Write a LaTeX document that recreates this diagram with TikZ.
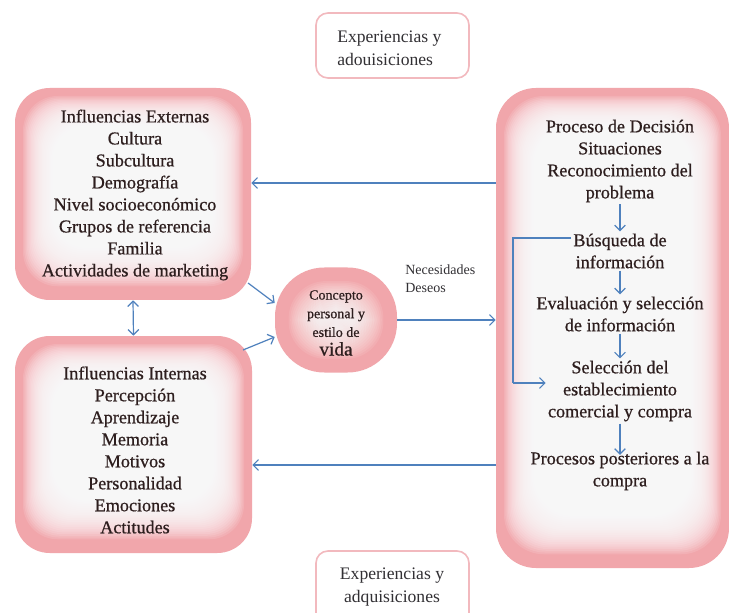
\documentclass[tikz,border=0pt]{standalone}
\usepackage{fontspec}
\setmainfont{Liberation Serif}
\newfontfamily\heavyserif{Liberation Serif}[FakeBold=0.7]
\usetikzlibrary{calc,fit,arrows.meta,shapes.geometric}
\definecolor{pinkedge}{RGB}{241,166,171}
\definecolor{pinkline}{RGB}{242,185,190}
\definecolor{arrblue}{RGB}{79,129,189}
\definecolor{txtc}{RGB}{45,30,30}
\definecolor{graytxt}{RGB}{50,48,52}
\tikzset{
  glowrect/.style={draw=none, fill=pinkedge, rounded corners=#1, inner sep=0pt,
    path picture={
      \foreach \i in {1,...,26}{
        \fill[white,opacity=0.12,rounded corners=#1]
          ($(path picture bounding box.south west)+(5pt+\i*1pt,9pt+\i*1.3pt)$) rectangle
          ($(path picture bounding box.north east)-(5pt+\i*1pt,5pt+\i*1pt)$);
      }}},
  glowcirc/.style={draw=none, fill=pinkedge, rounded corners=37pt, inner sep=0pt,
    minimum width=91.5pt, minimum height=78.75pt,
    path picture={
      \foreach \i in {1,...,20}{
        \fill[white,opacity=0.09,rounded corners=28pt]
          ($(path picture bounding box.south west)+(9pt+\i*1.2pt,9pt+\i*1.2pt)$) rectangle
          ($(path picture bounding box.north east)-(9pt+\i*1.2pt,9pt+\i*1.2pt)$);
      }}},
  expbox/.style={draw=pinkline, line width=1.2pt, fill=white, rounded corners=9pt, inner sep=0pt},
  maintxt/.style={text=txtc, align=center, inner sep=1.5pt, font=\heavyserif\fontsize{13.6}{16.5}\selectfont},
  smalltxt/.style={text=txtc, align=center, inner sep=0pt, font=\heavyserif\fontsize{10.5}{14}\selectfont},
  labtxt/.style={text=graytxt, align=left, inner sep=0pt, font=\fontsize{10.5}{13.5}\selectfont},
  exptxt/.style={text=graytxt, inner sep=0pt, font=\fontsize{13.2}{17}\selectfont},
  arr/.style={draw=arrblue, line width=0.9pt, -{Straight Barb[length=4pt,width=8pt]}},
  arrboth/.style={draw=arrblue, line width=0.9pt, {Straight Barb[length=4pt,width=8pt]}-{Straight Barb[length=4pt,width=8pt]}},
  bline/.style={draw=arrblue, line width=0.9pt}
}
\begin{document}
\begin{tikzpicture}[x=0.75pt,y=-0.75pt]
\useasboundingbox[fill=white] (0,0) rectangle (729,613);

% boxes
\node[expbox, fit={(316,13) (469,78)}] (exptop) {};
\node[exptxt, align=left, anchor=west] (exptopt) at (337,48) {Experiencias y\\adouisiciones};

\node[expbox, fit={(316,551) (469,625)}] (expbot) {};
\node[exptxt, align=center] (expbott) at (392,587) {Experiencias y\\adquisiciones};

\node[glowrect=26pt, fit={(15,88) (251,300)}] (ext) {};
\node[maintxt] (extt) at (135,195) {Influencias Externas\\Cultura\\Subcultura\\Demografía\\Nivel socioeconómico\\Grupos de referencia\\Familia\\Actividades de marketing};

\node[glowrect=26pt, fit={(15,336) (252,553)}] (int) {};
\node[maintxt] (intt) at (135,450) {Influencias Internas\\Percepción\\Aprendizaje\\Memoria\\Motivos\\Personalidad\\Emociones\\Actitudes};

\node[glowrect=30pt, fit={(496,88) (729,568)}] (proc) {};

\node[glowcirc] (circ) at (336,320) {};
\node[smalltxt] (circt) at (336,323) {Concepto\\personal y\\estilo de\\{\fontsize{14.5}{15}\selectfont vida}};

\node[labtxt, anchor=west] (lab) at (405,279) {Necesidades\\Deseos};

% process steps
\node[maintxt] (s1) at (620,161) {Proceso de Decisión\\Situaciones\\Reconocimiento del\\problema};
\node[maintxt] (s2) at (620,251) {Búsqueda de\\información};
\node[maintxt] (s3) at (620,314) {Evaluación y selección\\de información};
\node[maintxt] (s4) at (620,391) {Selección del\\establecimiento\\comercial y compra};
\node[maintxt] (s5) at (620,471) {Procesos posteriores a la\\compra};

\draw[arr] (s1.south) -- (s2.north);
\draw[arr] (s2.south) -- (s3.north);
\draw[arr] (s3.south) -- (s4.north);
\draw[arr] (s4.south) -- ([yshift=-4pt]s5.north);

\draw[bline] (s2.west |- 0,238) -- (513,238) -- (513,383);
\draw[arr] (513,383) -- (s4.west |- 0,383);

% connectors
\draw[arr] (proc.west |- 0,183) -- (ext.east |- 0,183);
\draw[arr] (proc.west |- 0,465) -- (int.east |- 0,465);
\draw[arrboth] (ext.south) -- (int.north);
\draw[arr] (248,283) -- (circ.west |- 0,303);
\draw[arr] (243,350) -- (circ.west |- 0,337);
\draw[arr] (circ.east) -- (proc.west |- circ.east);
\end{tikzpicture}
\end{document}
